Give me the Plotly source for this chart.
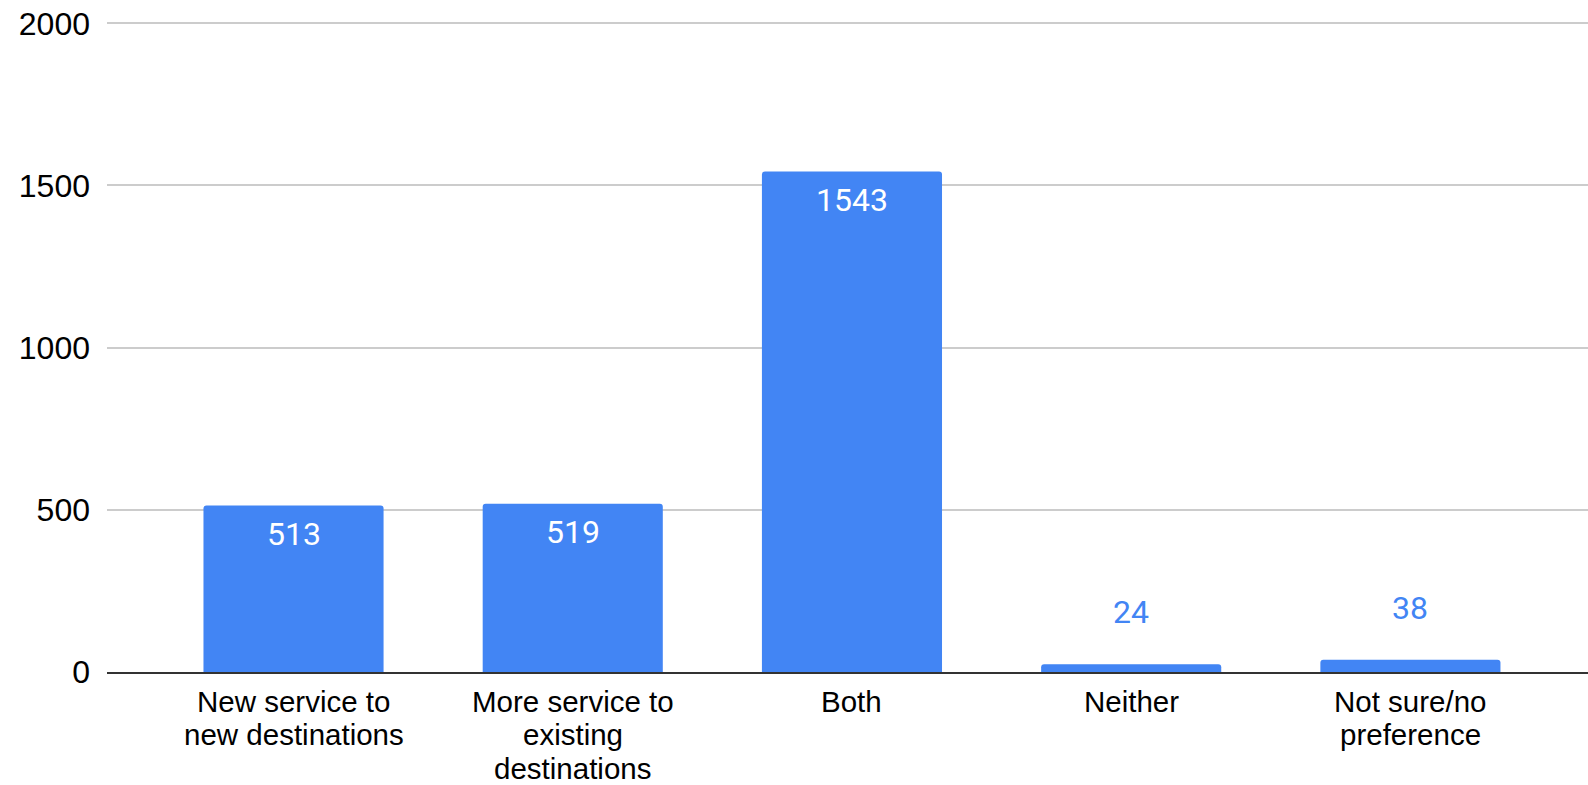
import plotly.graph_objects as go

# ---- data ----
categories = ["New service to new destinations", "More service to existing destinations",
              "Both", "Neither", "Not sure/no preference"]
category_label_lines = [["New service to", "new destinations"],
                        ["More service to", "existing", "destinations"],
                        ["Both"],
                        ["Neither"],
                        ["Not sure/no", "preference"]]
values = [513, 519, 1543, 24, 38]
y_tick_values = [0, 500, 1000, 1500, 2000]
y_tick_labels = ["0", "500", "1000", "1500", "2000"]

BLUE = "#4285F4"
W, H = 1588, 785
M_L, M_R, M_T, M_B = 107, 0, 22, 113

fig = go.Figure()
fig.add_trace(go.Bar(
    x=list(range(len(categories))),
    y=values,
    marker=dict(color=BLUE, line=dict(width=0)),
    hoverinfo="skip",
    customdata=categories,
))

annotations = []
inside_threshold = 200
line_shifts = [-29.8, -62.9, -96.0]
for i, v in enumerate(values):
    inside = v > inside_threshold
    annotations.append(dict(
        x=i, y=v, xref="x", yref="y", text=str(v), showarrow=False,
        xanchor="center", yanchor="middle",
        yshift=-28.6 if inside else 52,
        font=dict(family="Roboto", size=32, color="#ffffff" if inside else BLUE),
    ))
    for j, line in enumerate(category_label_lines[i]):
        annotations.append(dict(
            x=i, y=0, xref="x", yref="paper", text=line, showarrow=False,
            xanchor="center", yanchor="middle", borderpad=0,
            yshift=line_shifts[j],
            font=dict(family="Liberation Sans, Arial", size=29.5, color="#000000"),
        ))

fig.update_layout(
    width=W, height=H,
    margin=dict(l=M_L, r=M_R, t=M_T, b=M_B, pad=0),
    paper_bgcolor="white", plot_bgcolor="white",
    showlegend=False,
    bargap=0.355,
    barcornerradius=3,
    annotations=annotations,
    xaxis=dict(
        range=[-0.668, 4.636],
        tickvals=list(range(len(categories))),
        showticklabels=False,
        showgrid=False, zeroline=False,
        showline=True, linecolor="#333333", linewidth=2,
        ticks="",
    ),
    yaxis=dict(
        range=[0, 2004],
        tickvals=y_tick_values, ticktext=y_tick_labels,
        showgrid=True, gridcolor="#cccccc", gridwidth=2,
        zeroline=False, showline=False, ticks="",
        ticklabelstandoff=16,
        tickfont=dict(family="Liberation Sans, Arial", size=32, color="#000000"),
    ),
)

fig.write_html("out.html", config={"displayModeBar": False})
with open("out.html", "r", encoding="utf-8") as f:
    html = f.read()
html = html.replace("<body>", '<body style="margin:0;overflow:hidden">', 1)
with open("out.html", "w", encoding="utf-8") as f:
    f.write(html)
